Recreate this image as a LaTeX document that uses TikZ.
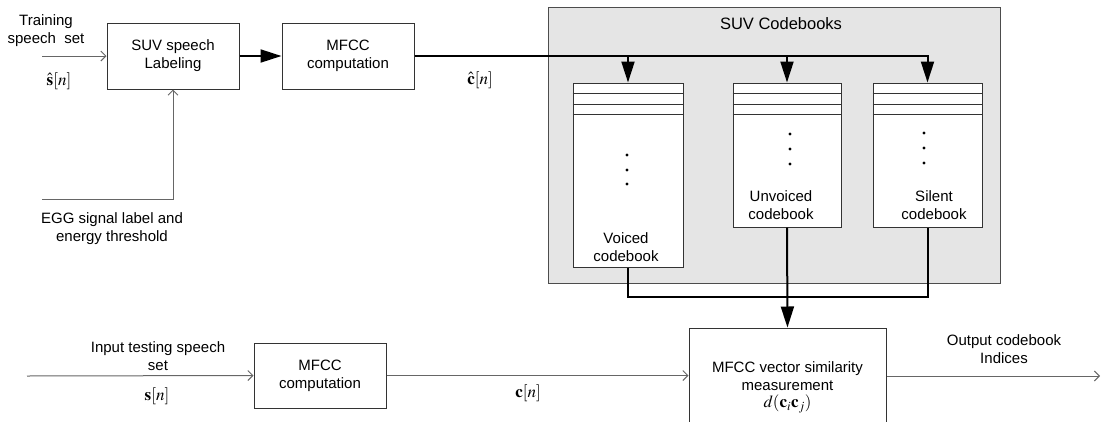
\documentclass[tikz,border=0pt]{standalone}
\usepackage{mathptmx}
\usepackage{fontspec}
\setmainfont{Liberation Sans}
\usetikzlibrary{arrows.meta}
\begin{document}
\begin{tikzpicture}[x=1pt,y=-1pt,
  font=\fontsize{15}{18}\selectfont,
  blk/.style={draw=black!80, line width=1pt, fill=white, inner sep=0pt, align=center},
  thinarr/.style={draw=black!60, line width=1pt, -{Straight Barb[length=5pt,width=10pt]}},
  thinline/.style={draw=black!60, line width=1pt},
  thkarr/.style={line width=2pt, -{Triangle[length=21pt,width=13pt]}},
  thkline/.style={line width=2pt},
  lbl/.style={align=center, inner sep=0pt},
  mlbl/.style={inner sep=0pt, font=\fontsize{17}{20}\selectfont},
  dot/.style={fill=black}]
\path[use as bounding box] (0,0) rectangle (1104,421);
\clip (0,0) rectangle (1104,421);

% codebook container
\node[draw=black!70, line width=1pt, fill=black!10, minimum width=452pt, minimum height=276pt, inner sep=0pt] (cbk) at (774,145) {};
\node[lbl, font=\fontsize{16.5}{19}\selectfont] (cbkt) at (781,24) {SUV Codebooks};

% blocks
\node[blk, minimum width=132pt, minimum height=66pt] (suv) at (173,56) {SUV speech\\Labeling};
\node[blk, minimum width=132pt, minimum height=66pt] (mfccA) at (348,56) {MFCC\\computation};
\node[blk, minimum width=132pt, minimum height=65pt] (mfccB) at (320,375.5) {MFCC\\computation};
\node[blk, minimum width=197pt, minimum height=114pt] (sim) at (787.5,385) {};
\node[lbl] (simt) at (787.5,376) {MFCC vector similarity\\measurement};
\node[mlbl] (simd) at (787.5,404) {$d(\mathbf{c}_i\mathbf{c}_j)$};

% codebooks
\node[blk, minimum width=110pt, minimum height=184pt] (voiced) at (628,175) {};
\node[blk, minimum width=108pt, minimum height=144pt] (unv) at (787,155) {};
\node[blk, minimum width=109pt, minimum height=144pt] (sil) at (927.5,155) {};
\foreach \b in {voiced,unv,sil}{
  \foreach \d in {11,22,32}{
    \draw[black!80, line width=1pt] ([yshift=-\d pt]\b.north west) -- ([yshift=-\d pt]\b.north east);
  }
}
\foreach \y in {155,170,184} \fill[dot] (627,\y) circle (1.6);
\foreach \y in {134,149,164} \fill[dot] (790,\y) circle (1.6);
\foreach \y in {133,148,163} \fill[dot] (924,\y) circle (1.6);
\node[lbl] (voicedt) at (626,247) {Voiced\\codebook};
\node[lbl] (unvt) at (781,205.5) {Unvoiced\\codebook};
\node[lbl] (silt) at (934,205.5) {Silent\\codebook};

% labels
\node[lbl] (train) at (46,30.5) {Training\\speech\ \ set};
\node[mlbl] (shat) at (59,81) {$\hat{\mathbf{s}}[n]$};
\node[mlbl] (chat) at (480,80) {$\hat{\mathbf{c}}[n]$};
\node[lbl] (egg) at (112,229) {EGG signal label and\\energy threshold};
\node[lbl] (inp) at (158,356) {Input testing speech\\set};
\node[mlbl] (sn) at (157,396) {$\mathbf{s}[n]$};
\node[mlbl] (cn) at (528,393) {$\mathbf{c}[n]$};
\node[lbl] (outp) at (1004,349.5) {Output codebook\\Indices};

% free ends
\coordinate (tin) at (42,56);
\coordinate (eggin) at (42,199);
\coordinate (tstin) at (27,376);
\coordinate (outend) at (1100,376);
\coordinate (cmb) at (787,297);

% top connectors
\draw[thinarr] (tin) -- (suv.west);
\draw[thinarr] (eggin) -| (suv.south);
\draw[thkarr] (suv.east) -- (mfccA.west);
\draw[thkarr] (mfccA.east) -| (sil.north);
\draw[thkarr] (voiced.north |- mfccA.east) -- (voiced.north);
\draw[thkarr] (unv.north |- mfccA.east) -- (unv.north);

% combine
\draw[thkline] (voiced.south) |- (cmb) -| (sil.south);
\draw[thkarr] (unv.south) -- (sim.north);

% bottom connectors
\draw[thinarr] (tstin) -- (mfccB.west);
\draw[thinarr] (mfccB.east) -- (sim.west |- mfccB.east);
\draw[thinarr] (sim.east |- outend) -- (outend);
\end{tikzpicture}
\end{document}
